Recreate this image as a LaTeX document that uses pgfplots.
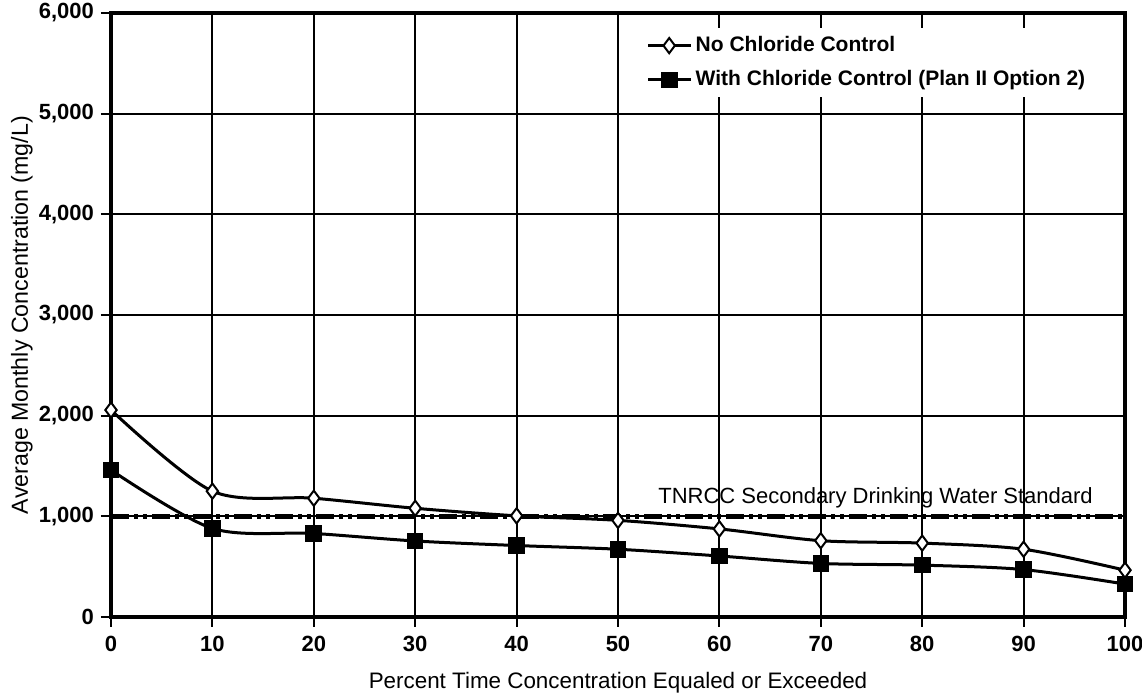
\documentclass[border=0pt]{standalone}
\usepackage{pgfplots}
\pgfplotsset{compat=1.18}
\usepackage{fontspec}
\setmainfont{Liberation Sans}
\begin{document}
\begin{tikzpicture}
\begin{axis}[
    scale only axis,
    width=507pt, height=302pt,
    xmin=0, xmax=100, ymin=0, ymax=6000,
    xtick={0,10,...,100}, ytick={0,1000,...,6000},
    grid=major,
    major grid style={black, line width=1pt},
    axis line style={black, line width=2pt},
    tick style={black, line width=1pt},
    tick align=outside,
    major tick length=5pt,
    xtick pos=bottom, ytick pos=left,
    /pgf/number format/assume math mode=true,
    /pgf/number format/1000 sep={,},
    ticklabel style={font=\fontsize{11}{13}\selectfont\bfseries},
    xticklabel style={yshift=-1pt},
    xlabel={Percent Time Concentration Equaled or Exceeded},
    ylabel={Average Monthly Concentration (mg/L)},
    every axis x label/.style={at={(axis description cs:0.5,0)}, anchor=center,
      yshift=-33pt, font=\fontsize{11.2}{13}\selectfont},
    every axis y label/.style={at={(axis description cs:0,0.5)}, rotate=90, anchor=center,
      yshift=44.5pt, font=\fontsize{11.6}{13}\selectfont},
    legend style={draw=none, fill=white, at={(0.522,0.975)}, anchor=north west,
      font=\fontsize{10.5}{12}\selectfont\bfseries, row sep=4pt},
    legend cell align=left,
    legend image code/.code={
      \draw[#1] (0pt,0pt) -- (21pt,0pt);
      \draw[#1, mark repeat=2, mark phase=2] plot coordinates {(0pt,0pt) (10.5pt,0pt) (21pt,0pt)};
    },
]
\addplot[black, line width=2.2pt, dash pattern=on 9pt off 2.5pt on 2pt off 2.5pt on 2pt off 2.5pt, forget plot]
  coordinates {(0,1000) (100,1000)};
\addplot[black, line width=1.5pt, smooth, tension=0.5, mark=diamond*,
  mark size=3.8pt, mark options={fill=white, line width=1pt, solid}]
  coordinates {
  (0,2056) (10,1250) (20,1180) (30,1080) (40,1005) (50,960)
  (60,875) (70,758) (80,734) (90,673) (100,465)
};
\addlegendentry{No Chloride Control}
\addplot[black, line width=1.5pt, smooth, tension=0.5, mark=square*,
  mark size=3.4pt, mark options={fill=black, solid}]
  coordinates {
  (0,1460) (10,880) (20,830) (30,755) (40,710) (50,673)
  (60,606) (70,532) (80,515) (90,471) (100,327)
};
\addlegendentry{With Chloride Control (Plan II Option 2)}
\node[font=\fontsize{11}{13}\selectfont, anchor=south] at (axis cs:75.4,1015)
  {TNRCC Secondary Drinking Water Standard};
\end{axis}
\pgfresetboundingbox
\path (current axis.south west) ++(-55.5pt,-41.5pt) rectangle ([xshift=8.5pt,yshift=6.5pt]current axis.north east);
\end{tikzpicture}
\end{document}
